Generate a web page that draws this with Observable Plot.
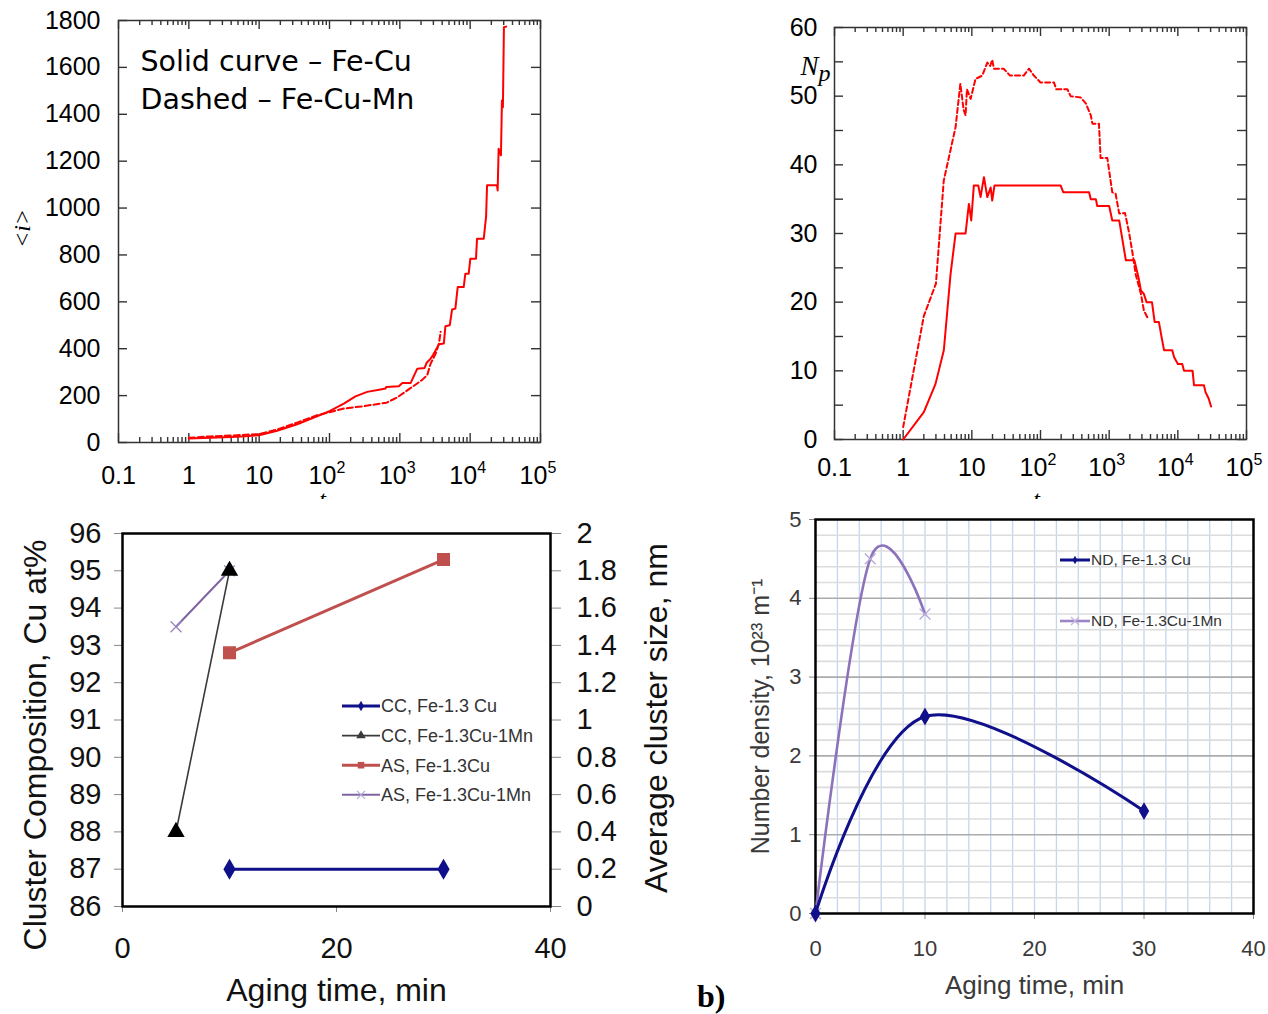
<!DOCTYPE html>
<html><head><meta charset="utf-8">
<script src="https://cdn.jsdelivr.net/npm/d3@7"></script>
<script src="https://cdn.jsdelivr.net/npm/@observablehq/plot@0.6"></script>
<style>
body{margin:0;background:#fff;}
#root{position:relative;width:1268px;height:1014px;overflow:hidden;background:#fff;}
.panel{position:absolute;}
.panel svg{overflow:visible;background:transparent;}
</style></head><body><div id="root"></div>
<script>
// ---------- Panel a (top-left): mean cluster size <i> vs t ----------
const feCuT = [1, 2.03, 4.87, 10, 18, 34.7, 66.5, 100, 160, 234, 343, 530, 626, 640, 968, 1085, 1427, 1773, 2250, 2404, 2746, 2990, 3233, 3600, 4220, 4450, 5120, 5530, 6160, 6650, 8090, 8540, 9530, 10060, 12100, 12520, 15600, 16830, 17390, 24060, 24590, 25400, 27400, 28300, 29200, 30200, 32500];
const feCuI = [17, 20, 24, 31, 50, 78, 112, 134, 166, 197, 216, 226, 230, 237, 240, 254, 254, 315, 318, 340, 358, 375, 394, 419, 422, 496, 500, 567, 571, 663, 663, 720, 720, 784, 784, 869, 869, 962, 1097, 1097, 1075, 1253, 1225, 1459, 1430, 1771, 1774];
const feCuMnT = [1, 2, 4.9, 10, 18, 34.7, 66.5, 100, 160, 307, 650, 910, 1140, 1500, 2060, 2450, 2746, 3233, 3600, 3800];
const feCuMnI = [20, 26, 31, 36, 55, 85, 116, 129, 145, 155, 170, 192, 212, 237, 266, 287, 337, 379, 422, 472];
const yTicksA = [0, 200, 400, 600, 800, 1000, 1200, 1400, 1600, 1800];

// ---------- Panel b (top-right): number of precipitates Np vs t ----------
const npCuT = [1, 2, 2.96, 3.91, 4.9, 5.8, 8.1, 9.06, 9.8, 10.7, 12.4, 13.4, 15, 16.8, 18.8, 19.8, 21.4, 196, 215, 510, 540, 640, 670, 1000, 1110, 1400, 1750, 2330, 2700, 2900, 3200, 3500, 4200, 4600, 5300, 5800, 6300, 8300, 8800, 10000, 11600, 12300, 16400, 17200, 24000, 25300, 28000, 30500];
const npCuV = [0, 4, 8.1, 13, 24.1, 30, 30, 34.3, 31.9, 37, 37, 35.3, 38.2, 35.3, 36.7, 34.8, 37, 37, 36, 36, 35, 35, 34, 34, 31.9, 31.9, 26.1, 26.1, 23.4, 21.7, 21.2, 20, 20, 17.1, 17.1, 14.9, 13, 13, 12, 11, 11, 10, 10, 7.9, 7.9, 6.9, 6, 4.8];
const npMnT = [1, 2, 3, 3.9, 5.8, 6.8, 7.6, 8.1, 8.5, 9.6, 11.3, 14.2, 16.8, 18.5, 19.8, 21, 29, 36, 57, 68, 80, 100, 157, 170, 246, 275, 385, 460, 540, 570, 710, 750, 940, 1110, 1240, 1400, 1700, 1960, 2200, 2440, 2900, 3200, 3600];
const npMnV = [1.8, 18, 22.7, 37.7, 45.5, 51.8, 48, 47.2, 51, 49.6, 52.5, 53, 54.9, 54.4, 55.3, 54, 54, 53, 53, 54, 53, 52, 52, 51, 51, 50, 49.8, 48.9, 47.2, 46, 46, 41, 41, 36, 35.8, 32.9, 33, 30, 27, 24, 21.2, 18.8, 17.8];
const yTicksB = [0, 5, 10, 15, 20, 25, 30, 35, 40, 45, 50, 55, 60];
const yLabelsB = [0, 10, 20, 30, 40, 50, 60];

// shared log axis ticks (top panels)
const logMajor = [0.1, 1, 10, 100, 1000, 10000, 100000];
const logMinor = [];
for (const d of [0.1, 1, 10, 100, 1000, 10000]) for (let k = 2; k <= 9; k++) logMinor.push(k * d);
const xLabelPlain = [0.1, 1, 10];
const xLabelPow = [100, 1000, 10000, 100000];
const xLabelExp = ["2", "3", "4", "5"];

// ---------- Panel c (bottom-left) ----------
const ccCuX = [10, 30], ccCuY = [87, 87];          // CC, Fe-1.3 Cu (left axis)
const ccMnX = [5, 10],  ccMnY = [88, 95];          // CC, Fe-1.3Cu-1Mn (left axis)
const asCuX = [10, 30], asCuY = [1.36, 1.86];      // AS, Fe-1.3Cu (right axis, nm)
const asMnX = [5, 10],  asMnY = [1.5, 1.8];        // AS, Fe-1.3Cu-1Mn (right axis, nm)
const leftTicksC = [86, 87, 88, 89, 90, 91, 92, 93, 94, 95, 96];
const rightTickValsC = [0, 0.2, 0.4, 0.6, 0.8, 1, 1.2, 1.4, 1.6, 1.8, 2];
const rightTickLabelsC = ["0", "0.2", "0.4", "0.6", "0.8", "1", "1.2", "1.4", "1.6", "1.8", "2"];
const xTicksC = [0, 20, 40];
const legendC = ["CC, Fe-1.3 Cu", "CC, Fe-1.3Cu-1Mn", "AS, Fe-1.3Cu", "AS, Fe-1.3Cu-1Mn"];

// ---------- Panel d (bottom-right) ----------
const ndCuX = [0, 10, 30], ndCuY = [0, 2.5, 1.3];
const ndMnX = [0, 5, 10],  ndMnY = [0, 4.5, 3.8];
const yTicksD = [0, 1, 2, 3, 4, 5];
const xTicksD = [0, 10, 20, 30, 40];
const legendD = ["ND, Fe-1.3 Cu", "ND, Fe-1.3Cu-1Mn"];
const vGridD = [2, 4, 6, 8, 10, 12, 14, 16, 18, 20, 22, 24, 26, 28, 30, 32, 34, 36, 38];
const hMajorD = [1, 2, 3, 4];
const hMinorD = [];
for (let i = 1; i < 25; i++) if (i % 5) hMinorD.push(i / 5);

const zip = (xs, ys) => xs.map((x, i) => ({x, y: ys[i]}));
const SANS = "Liberation Sans, Arial, sans-serif";
const SERIF = "Liberation Serif, Times New Roman, serif";
const root = document.getElementById("root");
function place(node, left, top, w, h, clip) {
  const d = document.createElement("div");
  d.className = "panel";
  Object.assign(d.style, {left: left + "px", top: top + "px", width: w + "px", height: h + "px"});
  if (clip) d.style.overflow = "hidden";
  d.appendChild(node);
  root.appendChild(d);
}

// log-axis frame with inner ticks on all four sides
function logTicks(pw, ph, yTicks, col) {
  const s = {stroke: col, strokeWidth: 1.4};
  return [
    Plot.tickX(logMajor, {x: d => d, insetTop: ph - 9, ...s}),
    Plot.tickX(logMinor, {x: d => d, insetTop: ph - 5, ...s}),
    Plot.tickX(logMajor, {x: d => d, insetBottom: ph - 9, ...s}),
    Plot.tickX(logMinor, {x: d => d, insetBottom: ph - 5, ...s}),
    Plot.tickY(yTicks, {y: d => d, insetRight: pw - 9, ...s}),
    Plot.tickY(yTicks, {y: d => d, insetLeft: pw - 9, ...s})
  ];
}
function logLabels(base) {
  return [
    Plot.text(xLabelPlain, {x: d => d, text: d => String(d), frameAnchor: "bottom", dy: base, lineAnchor: "bottom", textAnchor: "middle", fontSize: 25}),
    Plot.text(xLabelPow, {x: d => d, text: () => "10", frameAnchor: "bottom", dx: -7, dy: base, lineAnchor: "bottom", textAnchor: "middle", fontSize: 25}),
    Plot.text(xLabelPow, {x: d => d, text: (d, i) => xLabelExp[i], frameAnchor: "bottom", dx: 7, dy: base - 11, lineAnchor: "bottom", textAnchor: "start", fontSize: 16})
  ];
}

// ---------------- Panel a ----------------
{
  const W = 600, H = 510, ml = 118, mr = 60, mt = 20, mb = 68;
  const pw = W - ml - mr, ph = H - mt - mb;
  const p = Plot.plot({
    width: W, height: H, marginLeft: ml, marginRight: mr, marginTop: mt, marginBottom: mb,
    style: {fontFamily: SANS, fontSize: "25px", color: "#000", background: "transparent", overflow: "visible"},
    x: {type: "log", domain: [0.1, 1e5], axis: null},
    y: {domain: [0, 1800]},
    marks: [
      Plot.frame({stroke: "#333", strokeWidth: 1.5}),
      ...logTicks(pw, ph, yTicksA, "#333"),
      Plot.axisY({ticks: yTicksA, tickFormat: d => String(d), tickSize: 0, tickPadding: 18, fontSize: 25, label: null}),
      ...logLabels(41),
      Plot.line(zip(feCuMnT, feCuMnI), {x: "x", y: "y", stroke: "#ff0000", strokeWidth: 2, strokeDasharray: "6,3"}),
      Plot.line(zip(feCuT, feCuI), {x: "x", y: "y", stroke: "#ff0000", strokeWidth: 2}),
      Plot.text(["Solid curve – Fe-Cu"], {text: d => d, frameAnchor: "top-left", dx: 22, dy: 50, textAnchor: "start", lineAnchor: "bottom", fontSize: 28.5, fontFamily: "DejaVu Sans"}),
      Plot.text(["Dashed – Fe-Cu-Mn"], {text: d => d, frameAnchor: "top-left", dx: 22, dy: 88, textAnchor: "start", lineAnchor: "bottom", fontSize: 28.5, fontFamily: "DejaVu Sans"}),
      Plot.text(["<i>"], {text: d => d, frameAnchor: "left", dx: -96, dy: -3, rotate: -90, textAnchor: "middle", fontSize: 24, fontStyle: "italic", fontFamily: SERIF}),
      Plot.text(["t"], {text: d => d, frameAnchor: "bottom", dx: -7, dy: 64, lineAnchor: "bottom", textAnchor: "middle", fontSize: 24, fontStyle: "italic", fontFamily: SERIF})
    ]
  });
  place(p, 0, 0, W, 499, true);
}

// ---------------- Panel b ----------------
{
  const W = 568, H = 510, ml = 134, mr = 22, mt = 27, mb = 71;
  const pw = W - ml - mr, ph = H - mt - mb;
  const p = Plot.plot({
    width: W, height: H, marginLeft: ml, marginRight: mr, marginTop: mt, marginBottom: mb,
    style: {fontFamily: SANS, fontSize: "25px", color: "#000", background: "transparent", overflow: "visible"},
    x: {type: "log", domain: [0.1, 1e5], axis: null},
    y: {domain: [0, 60]},
    marks: [
      Plot.frame({stroke: "#333", strokeWidth: 1.5}),
      ...logTicks(pw, ph, yTicksB, "#333"),
      Plot.axisY({ticks: yLabelsB, tickFormat: d => String(d), tickSize: 0, tickPadding: 17, fontSize: 25, label: null}),
      ...logLabels(36),
      Plot.line(zip(npMnT, npMnV), {x: "x", y: "y", stroke: "#ff0000", strokeWidth: 2, strokeDasharray: "5,3"}),
      Plot.line(zip(npCuT, npCuV), {x: "x", y: "y", stroke: "#ff0000", strokeWidth: 2}),
      Plot.text(["N"], {text: d => d, frameAnchor: "top-left", dx: -34, dy: 47, textAnchor: "start", lineAnchor: "bottom", fontSize: 27, fontStyle: "italic", fontFamily: SERIF}),
      Plot.text(["p"], {text: d => d, frameAnchor: "top-left", dx: -16, dy: 53, textAnchor: "start", lineAnchor: "bottom", fontSize: 24, fontStyle: "italic", fontFamily: SERIF}),
      Plot.text(["t"], {text: d => d, frameAnchor: "bottom", dx: -4, dy: 67, lineAnchor: "bottom", textAnchor: "middle", fontSize: 24, fontStyle: "italic", fontFamily: SERIF})
    ]
  });
  place(p, 700, 0, W, 499, true);
}

// ---------------- Panel c ----------------
const NAVY = "#10108a", RED = "#c0504d", PURPLE = "#8064a2", BLACKL = "#3a3a3a";
{
  const W = 700, H = 509, ml = 122, mr = 150, mt = 28, mb = 108;
  const toLeft = v => 86 + v * 5;
  const rightLabel = d => {
    const i = rightTickValsC.findIndex(v => Math.abs(toLeft(v) - d) < 1e-6);
    return rightTickLabelsC[i];
  };
  const p = Plot.plot({
    width: W, height: H, marginLeft: ml, marginRight: mr, marginTop: mt, marginBottom: mb,
    style: {fontFamily: SANS, fontSize: "29px", color: "#111", background: "transparent", overflow: "visible"},
    x: {domain: [0, 40]},
    y: {domain: [86, 96]},
    marks: [
      Plot.axisY({ticks: leftTicksC, tickFormat: d => String(d), tickSize: 8, tickPadding: 13, stroke: "#888", fill: "#111", fontSize: 29, label: null}),
      Plot.axisY({anchor: "right", ticks: rightTickValsC.map(toLeft), tickFormat: rightLabel, tickSize: 10, tickPadding: 16, stroke: "#888", fill: "#111", fontSize: 29, label: null}),
      Plot.axisX({ticks: xTicksC, tickFormat: d => String(d), tickSize: 6, tickPadding: 25, stroke: "#888", fill: "#111", fontSize: 29, label: null}),
      Plot.frame({stroke: "#000", strokeWidth: 2.5}),
      Plot.line(zip(asMnX, asMnY), {x: "x", y: d => toLeft(d.y), stroke: PURPLE, strokeWidth: 2}),
      Plot.dot(zip(asMnX, asMnY), {x: "x", y: d => toLeft(d.y), symbol: "times", r: 5, stroke: "#9a86bf", strokeWidth: 1.3}),
      Plot.line(zip(ccMnX, ccMnY), {x: "x", y: "y", stroke: BLACKL, strokeWidth: 1.6}),
      Plot.dot(zip(ccMnX, ccMnY), {x: "x", y: "y", symbol: "triangle", r: 5.5, fill: "#000", stroke: "#000"}),
      Plot.line(zip(asCuX, asCuY), {x: "x", y: d => toLeft(d.y), stroke: RED, strokeWidth: 3}),
      Plot.dot(zip(asCuX, asCuY), {x: "x", y: d => toLeft(d.y), symbol: "square", r: 6.5, fill: RED, stroke: RED}),
      Plot.line(zip(ccCuX, ccCuY), {x: "x", y: "y", stroke: NAVY, strokeWidth: 3}),
      Plot.dot(zip(ccCuX, ccCuY), {x: "x", y: "y", symbol: "diamond", r: 5.5, fill: NAVY, stroke: NAVY}),
      Plot.text(["Cluster Composition, Cu at%"], {text: d => d, frameAnchor: "left", dx: -87, dy: 25, rotate: -90, textAnchor: "middle", fontSize: 32, fill: "#111"}),
      Plot.text(["Average cluster size, nm"], {text: d => d, frameAnchor: "right", dx: 106, dy: -2, rotate: -90, textAnchor: "middle", fontSize: 32, fill: "#111"}),
      Plot.text(["Aging time, min"], {text: d => d, frameAnchor: "bottom", dy: 94, lineAnchor: "bottom", textAnchor: "middle", fontSize: 32, fill: "#111"})
    ]
  });
  place(p, 0, 505, W, H, false);
}

// ---------------- Panel d ----------------
{
  const W = 568, H = 509, ml = 115, mr = 15, mt = 14, mb = 101;
  const p = Plot.plot({
    width: W, height: H, marginLeft: ml, marginRight: mr, marginTop: mt, marginBottom: mb,
    style: {fontFamily: SANS, fontSize: "21px", color: "#3a3a3a", background: "transparent", overflow: "visible"},
    x: {domain: [0, 40]},
    y: {domain: [0, 5]},
    marks: [
      Plot.ruleX(vGridD, {x: d => d, stroke: "#c4d6ef", strokeWidth: 1.3}),
      Plot.ruleY(hMinorD, {y: d => d, stroke: "#dcdcdc", strokeWidth: 1.6}),
      Plot.ruleY(hMajorD, {y: d => d, stroke: "#ababab", strokeWidth: 1.6}),
      Plot.axisY({ticks: yTicksD, tickFormat: d => String(d), tickSize: 6, tickPadding: 8, stroke: "#888", fill: "#3a3a3a", fontSize: 22, label: null}),
      Plot.axisX({ticks: xTicksD, tickFormat: d => String(d), tickSize: 6, tickPadding: 21, stroke: "#888", fill: "#3a3a3a", fontSize: 22, label: null}),
      Plot.frame({stroke: "#000", strokeWidth: 2.5}),
      Plot.line(zip(ndMnX, ndMnY), {x: "x", y: "y", curve: "cardinal", stroke: "#8b72bb", strokeWidth: 2.6}),
      Plot.dot(zip(ndMnX, ndMnY), {x: "x", y: "y", symbol: "times", r: 5, stroke: "#b6a7d6", strokeWidth: 1.3}),
      Plot.line(zip(ndCuX, ndCuY), {x: "x", y: "y", curve: "cardinal", stroke: NAVY, strokeWidth: 3}),
      Plot.dot(zip(ndCuX, ndCuY), {x: "x", y: "y", symbol: "diamond", r: 4.5, fill: NAVY, stroke: NAVY}),
      Plot.text(["Number density, 10²³ m⁻¹"], {text: d => d, frameAnchor: "left", dx: -55, rotate: -90, textAnchor: "middle", fontSize: 25, fill: "#3a3a3a"}),
      Plot.text(["Aging time, min"], {text: d => d, frameAnchor: "bottom", dy: 80, lineAnchor: "bottom", textAnchor: "middle", fontSize: 26, fill: "#3a3a3a"})
    ]
  });
  place(p, 700, 505, W, H, false);
}

// ---------------- legends & panel tag (overlay) ----------------
const ov = d3.select(root).append("svg")
  .attr("width", 1268).attr("height", 1014)
  .style("position", "absolute").style("left", 0).style("top", 0).style("pointer-events", "none");

function marker(g, kind, x, y, color, size) {
  if (kind === "times") {
    const s = size;
    g.append("path").attr("d", `M${x - s},${y - s}L${x + s},${y + s}M${x - s},${y + s}L${x + s},${y - s}`)
      .attr("stroke", color).attr("stroke-width", 1.2).attr("fill", "none");
    return;
  }
  const type = {diamond: d3.symbolDiamond, triangle: d3.symbolTriangle, square: d3.symbolSquare}[kind];
  g.append("path").attr("d", d3.symbol(type, size * size * 3)())
    .attr("transform", `translate(${x},${y})`).attr("fill", color);
}
function legend(labels, styles, x0, x1, y0, dy, fs) {
  labels.forEach((lab, i) => {
    const st = styles[i], y = y0 + i * dy, g = ov.append("g");
    g.append("line").attr("x1", x0).attr("x2", x1).attr("y1", y).attr("y2", y)
      .attr("stroke", st.color).attr("stroke-width", st.lw);
    marker(g, st.sym, (x0 + x1) / 2, y, st.mcolor || st.color, st.ms);
    g.append("text").attr("x", x1 + 1).attr("y", y).attr("dy", "0.35em")
      .attr("font-family", SANS).attr("font-size", fs).attr("fill", "#333").text(lab);
  });
}
legend(legendC, [
  {color: NAVY, lw: 3, sym: "diamond", ms: 3.2},
  {color: BLACKL, lw: 1.8, sym: "triangle", ms: 3.6},
  {color: RED, lw: 3, sym: "square", ms: 3.8},
  {color: PURPLE, lw: 2, sym: "times", ms: 4, mcolor: "#b6a7d6"}
], 342, 380, 706, 29.6, 18);
legend(legendD, [
  {color: NAVY, lw: 3, sym: "diamond", ms: 2.6},
  {color: "#9c86c6", lw: 2.6, sym: "times", ms: 4, mcolor: "#c2b6df"}
], 1060, 1090, 560, 61, 15.5);

ov.append("text").attr("x", 697).attr("y", 1007)
  .attr("font-family", SERIF).attr("font-weight", "bold").attr("font-size", 32).attr("fill", "#000").text("b)");
</script>
</body></html>
